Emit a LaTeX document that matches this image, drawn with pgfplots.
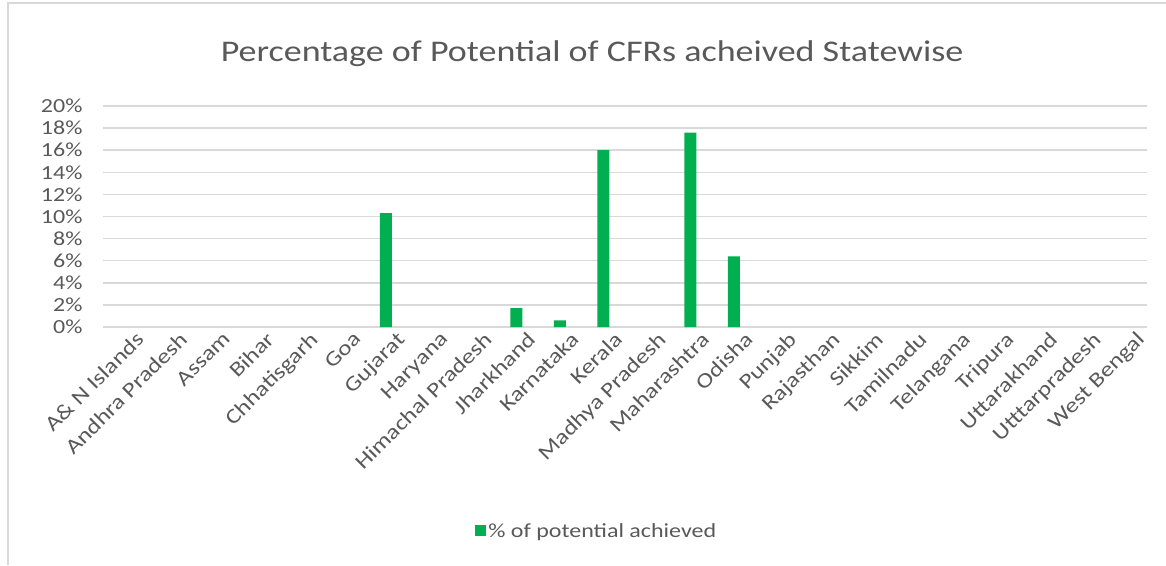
\documentclass[border=0pt]{standalone}
\usepackage{fontspec}
\setmainfont{Carlito}[FakeStretch=1.2]
\usepackage{pgfplots}
\pgfplotsset{compat=1.18}
\definecolor{barg}{HTML}{00B050}
\definecolor{txt}{HTML}{595959}
\definecolor{grd}{HTML}{D9D9D9}
\begin{document}
\begin{tikzpicture}
\useasboundingbox (0pt,0pt) rectangle (1166pt,565pt);
\draw[grd, line width=1.5pt] (8pt,0pt) -- (8pt,562pt) -- (1166pt,562pt);
\node[txt, font=\fontsize{30}{36}\selectfont, anchor=base] at (592pt,503pt) {Percentage of Potential of CFRs acheived Statewise};
\begin{axis}[at={(103pt,238pt)}, anchor=south west, scale only axis,
  width=1044pt, height=221pt,
  xmin=-0.5, xmax=23.5, ymin=0, ymax=20,
  ybar, bar width=12pt,
  xtick={0,...,23},
  xticklabels={A\& N Islands, Andhra Pradesh, Assam, Bihar, Chhatisgarh, Goa, Gujarat, Haryana, Himachal Pradesh, Jharkhand, Karnataka, Kerala, Madhya Pradesh, Maharashtra, Odisha, Punjab, Rajasthan, Sikkim, Tamilnadu, Telangana, Tripura, Uttarakhand, Utttarpradesh, West Bengal},
  ytick={0,2,...,20},
  yticklabel={\pgfmathprintnumber{\tick}\%},
  /pgf/number format/assume math mode=true,
  ymajorgrids, grid style={grd, line width=1.5pt},
  axis line style={draw=none}, major tick length=0pt,
  tick label style={text=txt, font=\fontsize{20}{24}\selectfont},
  y tick label style={xshift=-17pt},
  x tick label style={rotate=45, anchor=north east, xshift=8pt, yshift=-6pt, font=\fontsize{21}{24}\selectfont},
  legend style={at={(0.473,-0.923)}, anchor=center, draw=none, fill=none,
    font=\fontsize{20}{24}\selectfont, text=txt},
  legend image code/.code={\fill[barg] (-4pt,-5.5pt) rectangle (7pt,5.5pt);},
]
\addplot[fill=barg, draw=none, y filter/.expression={y==0 ? nan : y}] coordinates {
(0,0) (1,0) (2,0) (3,0) (4,0) (5,0) (6,10.3) (7,0) (8,0) (9,1.7) (10,0.6) (11,16.0)
(12,0) (13,17.6) (14,6.4) (15,0) (16,0) (17,0) (18,0) (19,0) (20,0) (21,0) (22,0) (23,0)};
\addlegendentry{\% of potential achieved}
\end{axis}
\end{tikzpicture}
\end{document}
